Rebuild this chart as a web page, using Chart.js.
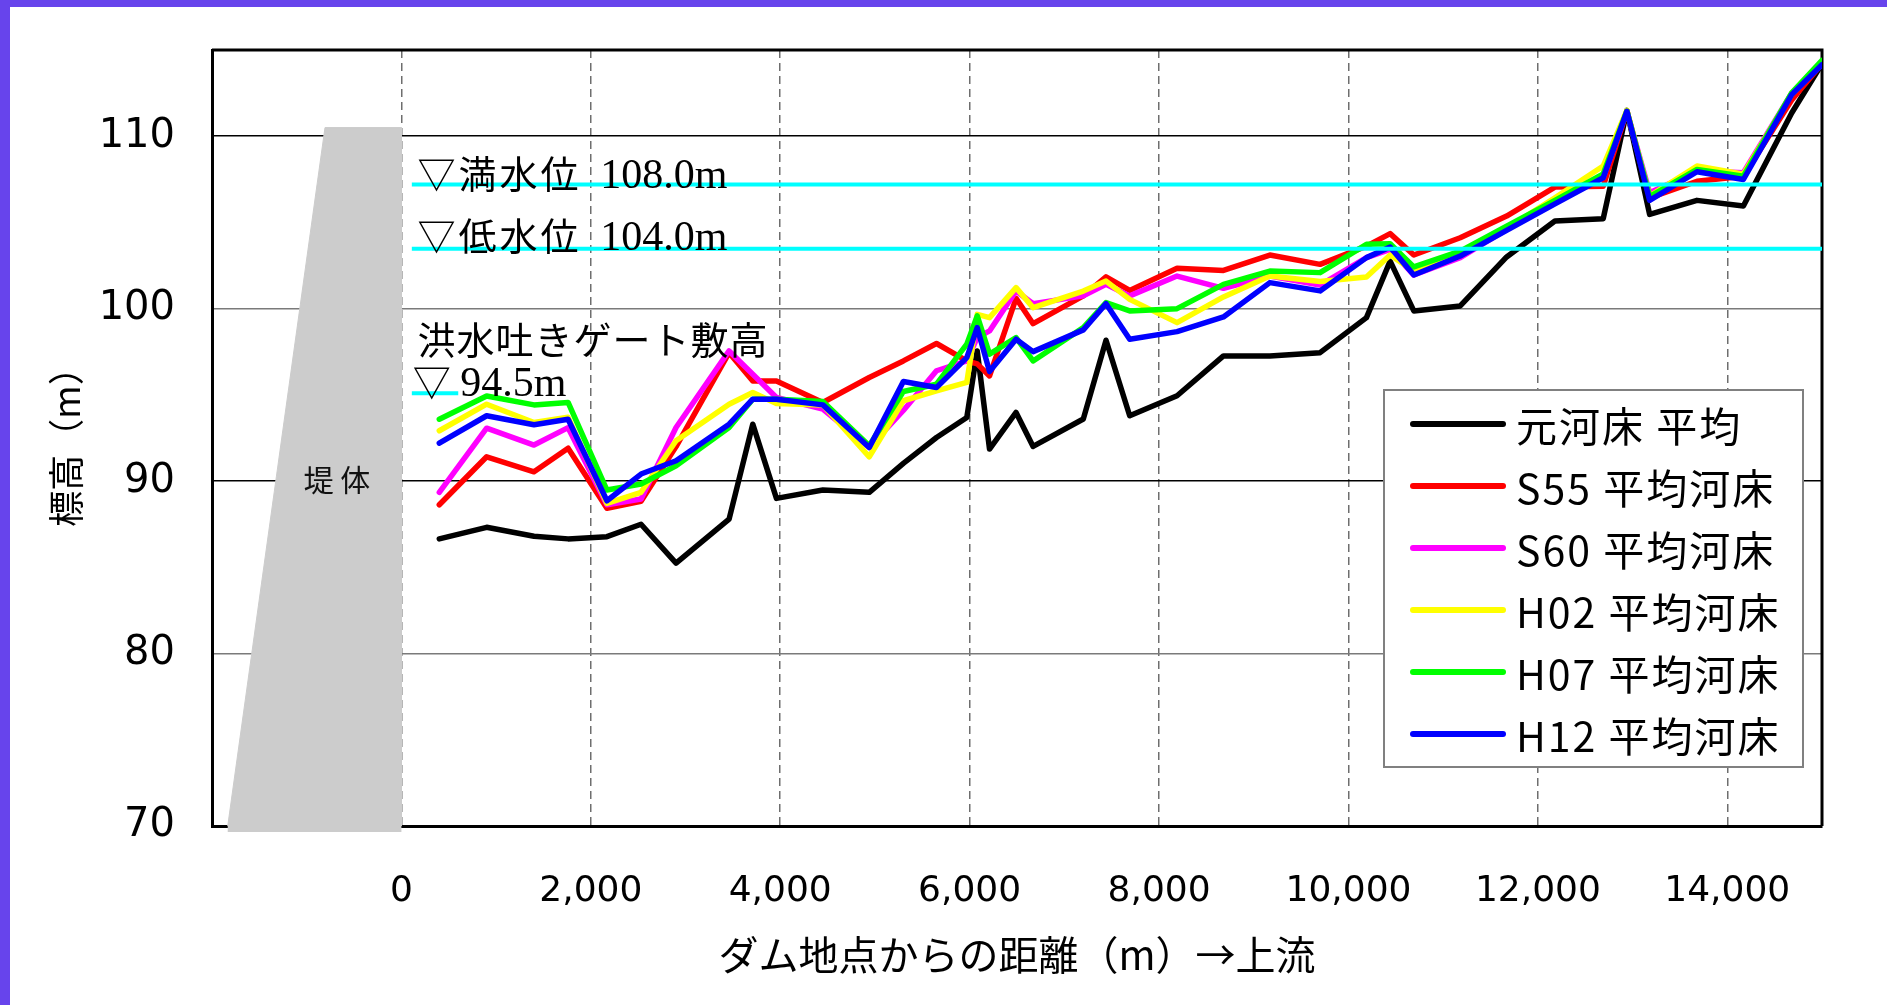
<!DOCTYPE html>
<html lang="ja">
<head>
<meta charset="utf-8">
<title>平均河床高の縦断変化</title>
<script src="https://cdn.jsdelivr.net/npm/chart.js@4.4.1/dist/chart.umd.min.js"></script>
<style>
  html, body { margin: 0; padding: 0; background: #fff; }
  #wrap { position: relative; width: 1887px; height: 1005px; overflow: hidden; background: #fff; }
  #chart { position: absolute; left: 0; top: 0; }
  .band-top  { position: absolute; left: 0; top: 0; width: 1887px; height: 7px; background: #6744EC; }
  .band-left { position: absolute; left: 0; top: 0; width: 10px; height: 1005px; background: #6744EC; }
</style>
</head>
<body>
<div id="wrap">
  <canvas id="chart" width="1887" height="1005"></canvas>
  <div class="band-top"></div>
  <div class="band-left"></div>
</div>
<script>
// ====== データ ======
// ダム地点からの距離 (m)
const DIST = [400, 900, 1400, 1760, 2170, 2530, 2900, 3460, 3710, 3960,
              4450, 4940, 5300, 5650, 5970, 6080, 6210, 6490, 6670, 7200,
              7440, 7690, 8190, 8680, 9170, 9700, 10190, 10440, 10690, 11180,
              11670, 12180, 12690, 12940, 13180, 13680, 14170, 14680, 15000];

// 標高 (m)
const BED_ORIGINAL = [86.65, 87.32, 86.8, 86.65, 86.78, 87.5, 85.24, 87.8, 93.3, 89.0,
                      89.48, 89.35, 91.03, 92.53, 93.69, 97.55, 91.86, 93.98, 92.01, 93.6,
                      98.17, 93.79, 94.95, 97.26, 97.26, 97.45, 99.48, 102.76, 99.87, 100.16,
                      103.0, 105.08, 105.22, 111.5, 105.47, 106.28, 105.95, 111.35, 114.2];
const BED_S55 = [88.63, 91.41, 90.54, 91.91, 88.42, 88.83, 92.0, 97.45, 95.81, 95.81,
                 94.56, 96.01, 96.97, 97.98, 96.97, 96.8, 96.1, 100.6, 99.13, 100.74,
                 101.85, 101.06, 102.34, 102.22, 103.11, 102.57, 103.63, 104.35, 103.11, 104.11,
                 105.37, 107.05, 107.1, 111.45, 106.43, 107.39, 107.68, 112.1, 114.2];
const BED_S60 = [89.35, 93.07, 92.09, 93.1, 88.63, 88.96, 93.11, 97.55, 96.2, 94.85,
                 94.17, 91.95, 94.1, 96.4, 96.97, 98.32, 98.71, 101.02, 100.29, 100.74,
                 101.41, 100.74, 101.89, 101.18, 101.89, 101.37, 102.96, 103.44, 101.95, 102.96,
                 104.6, 106.15, 107.6, 111.45, 106.72, 108.0, 107.88, 112.5, 114.2];
const BED_H02 = [92.92, 94.46, 93.4, 93.7, 88.71, 89.35, 92.34, 94.46, 95.14, 94.5,
                 94.42, 91.41, 94.66, 95.23, 95.72, 99.67, 99.48, 101.22, 100.06, 101.02,
                 101.6, 100.54, 99.19, 100.68, 101.89, 101.57, 101.84, 103.11, 102.18, 103.2,
                 104.65, 106.43, 108.27, 111.5, 106.53, 108.27, 107.8, 112.45, 114.2];
const BED_H07 = [93.59, 94.94, 94.42, 94.56, 89.48, 89.83, 90.89, 93.11, 94.75, 94.75,
                 94.62, 92.05, 95.2, 95.62, 97.94, 99.58, 97.36, 98.32, 96.97, 98.9,
                 100.35, 99.87, 100.0, 101.41, 102.18, 102.09, 103.73, 103.77, 102.42, 103.34,
                 104.79, 106.28, 107.82, 111.45, 106.5, 108.07, 107.68, 112.51, 114.4];
const BED_H12 = [92.2, 93.79, 93.27, 93.59, 88.86, 90.41, 91.18, 93.3, 94.75, 94.75,
                 94.42, 91.95, 95.78, 95.43, 97.16, 98.9, 96.35, 98.23, 97.51, 98.77,
                 100.29, 98.23, 98.67, 99.52, 101.51, 101.03, 102.96, 103.57, 101.95, 103.05,
                 104.54, 106.08, 107.59, 111.45, 106.28, 107.94, 107.49, 112.41, 114.15];

const SERIES_NAMES = ["元河床 平均", "S55 平均河床", "S60 平均河床", "H02 平均河床", "H07 平均河床", "H12 平均河床"];
const SERIES_VALUES = [BED_ORIGINAL, BED_S55, BED_S60, BED_H02, BED_H07, BED_H12];

// 堤体の外形 (距離, 標高)
const DAM_X = [-1834, -807, 0, 0];
const DAM_Y = [70, 110.5, 110.5, 70];
const DAM_BASE_X = [-1834, 0];
const DAM_BASE_Y = [69.85, 69.85];

// 水位線
const LEVEL_FULL_X = [110, 15000];
const LEVEL_FULL_Y = [107.2, 107.2];
const LEVEL_LOW_X  = [110, 15000];
const LEVEL_LOW_Y  = [103.47, 103.47];
const LEVEL_GATE_X = [110, 600];
const LEVEL_GATE_Y = [95.1, 95.1];

// 軸
const X_MIN = -2000, X_MAX = 15000;
const X_TICKS = [-2000, 0, 2000, 4000, 6000, 8000, 10000, 12000, 14000];
const Y_MIN = 70, Y_MAX = 115;
const Y_TICKS = [70, 80, 90, 100, 110];

// ====== 見た目 ======
const COLORS = ["#000000", "#ff0000", "#ff00ff", "#ffff00", "#00ff00", "#0000ff"];
const JP = '"Noto Sans CJK JP", "Noto Sans CJK SC", sans-serif';
const SERIF = '"Liberation Serif", "DejaVu Serif", serif';
const SANS = '"DejaVu Sans", "Liberation Sans", sans-serif';

const NOTES = [
  { text: "▽満水位", x: 170, y: 107.0, font: "38px " + JP, spacing: "3px" },
  { text: "108.0m", x: 2100, y: 107.0, font: "42px " + SERIF, spacing: "0px" },
  { text: "▽低水位", x: 170, y: 103.4, font: "38px " + JP, spacing: "3px" },
  { text: "104.0m", x: 2100, y: 103.4, font: "42px " + SERIF, spacing: "0px" },
  { text: "洪水吐きゲート敷高", x: 170, y: 97.4, font: "38px " + JP, spacing: "1px" },
  { text: "▽", x: 120, y: 94.95, font: "38px " + JP, spacing: "0px" },
  { text: "94.5m", x: 620, y: 94.95, font: "42px " + SERIF, spacing: "0px" },
];
const DAM_LABEL = { text: "堤 体", x: -680, y: 90.1 };

const LEGEND_BOX = { x: 1384, y: 390, w: 419, h: 377 };

function toPoints(xs, ys) {
  return xs.map((x, i) => ({ x: x, y: ys[i] }));
}

// ====== データセット ======
const datasets = [];

SERIES_NAMES.forEach((name, i) => {
  datasets.push({
    label: name,
    data: toPoints(DIST, SERIES_VALUES[i]),
    borderColor: COLORS[i],
    backgroundColor: COLORS[i],
    borderWidth: 5.5,
    borderJoinStyle: "round",
    borderCapStyle: "round",
    pointRadius: 0,
    fill: false,
    order: 6 - i
  });
});

[[LEVEL_FULL_X, LEVEL_FULL_Y], [LEVEL_LOW_X, LEVEL_LOW_Y], [LEVEL_GATE_X, LEVEL_GATE_Y]].forEach(([xs, ys]) => {
  datasets.push({
    label: "",
    data: toPoints(xs, ys),
    borderColor: "#00ffff",
    borderWidth: 4,
    pointRadius: 0,
    fill: false,
    order: 0
  });
});

// 堤体
datasets.push({
  label: "堤体",
  data: toPoints(DAM_X, DAM_Y),
  borderColor: "#cccccc",
  backgroundColor: "#cccccc",
  borderWidth: 1,
  pointRadius: 0,
  fill: "start",
  order: 10
});
datasets.push({
  label: "堤体下端",
  data: toPoints(DAM_BASE_X, DAM_BASE_Y),
  borderColor: "#cccccc",
  borderWidth: 7,
  borderCapStyle: "butt",
  pointRadius: 0,
  fill: false,
  clip: false,
  order: 9
});

// ====== 枠・注記・凡例 ======
const decorations = {
  id: "decorations",
  beforeDatasetsDraw(chart) {
    const { ctx, chartArea: a } = chart;
    ctx.save();
    ctx.strokeStyle = "#000";
    ctx.lineWidth = 3;
    ctx.beginPath();
    ctx.moveTo(a.left, a.top);
    ctx.lineTo(a.right, a.top);
    ctx.lineTo(a.right, a.bottom);
    ctx.stroke();
    ctx.restore();
  },
  afterDatasetsDraw(chart) {
    const { ctx } = chart;
    const xs = chart.scales.x, ys = chart.scales.y;

    ctx.save();
    ctx.fillStyle = "#000";
    ctx.textBaseline = "alphabetic";
    ctx.textAlign = "left";
    NOTES.forEach(n => {
      ctx.font = n.font;
      ctx.letterSpacing = n.spacing;
      ctx.fillText(n.text, xs.getPixelForValue(n.x), ys.getPixelForValue(n.y));
    });
    ctx.letterSpacing = "0px";

    // 堤体
    ctx.font = "30px " + JP;
    ctx.textAlign = "center";
    ctx.textBaseline = "middle";
    ctx.fillStyle = "#111";
    ctx.fillText(DAM_LABEL.text, xs.getPixelForValue(DAM_LABEL.x), ys.getPixelForValue(DAM_LABEL.y));

    // 凡例
    const b = LEGEND_BOX;
    ctx.fillStyle = "#fff";
    ctx.fillRect(b.x, b.y, b.w, b.h);
    ctx.strokeStyle = "#808080";
    ctx.lineWidth = 2;
    ctx.strokeRect(b.x, b.y, b.w, b.h);

    ctx.font = "41px " + JP;
    ctx.letterSpacing = "2px";
    ctx.textAlign = "left";
    ctx.textBaseline = "middle";
    SERIES_NAMES.forEach((name, i) => {
      const y = b.y + 34 + i * 62;
      ctx.strokeStyle = COLORS[i];
      ctx.lineWidth = 6;
      ctx.lineCap = "round";
      ctx.beginPath();
      ctx.moveTo(b.x + 29, y);
      ctx.lineTo(b.x + 119, y);
      ctx.stroke();
      ctx.fillStyle = "#000";
      ctx.fillText(name, b.x + 132, y + 2);
    });
    ctx.restore();
  }
};

// ====== グラフ ======
new Chart(document.getElementById("chart"), {
  type: "line",
  data: { datasets: datasets },
  options: {
    responsive: false,
    animation: false,
    devicePixelRatio: 1,
    layout: { padding: { top: 50, right: 65, left: 0, bottom: 0 } },
    plugins: {
      legend: { display: false },
      tooltip: { enabled: false }
    },
    elements: { line: { tension: 0 }, point: { radius: 0 } },
    scales: {
      x: {
        type: "linear",
        min: X_MIN,
        max: X_MAX,
        afterBuildTicks: s => { s.ticks = X_TICKS.map(v => ({ value: v })); },
        ticks: {
          autoSkip: false,
          maxRotation: 0,
          padding: 44,
          color: "#000",
          font: { family: SANS, size: 36 },
          callback: v => (v === X_MIN ? "" : Number(v).toLocaleString("en-US"))
        },
        grid: {
          drawTicks: false,
          lineWidth: 1.5,
          color: c => (c.tick && c.tick.value === X_MIN ? "rgba(0,0,0,0)" : "#6e6e6e")
        },
        border: { color: "#000", width: 3, dash: [8, 5] },
        title: {
          display: true,
          text: "ダム地点からの距離（m）→上流",
          color: "#000",
          font: { family: JP, size: 40 },
          padding: { top: 0, bottom: 26 }
        },
        afterFit: s => {
          s.height = 179;
          s.paddingLeft = 0;
          s.paddingRight = 0;
        }
      },
      y: {
        min: Y_MIN,
        max: Y_MAX,
        afterBuildTicks: s => { s.ticks = Y_TICKS.map(v => ({ value: v })); },
        ticks: {
          padding: 37,
          color: "#000",
          font: { family: SANS, size: 40 }
        },
        grid: {
          drawTicks: false,
          lineWidth: 1.5,
          color: c => {
            if (!c.tick || c.tick.value === Y_MIN) return "rgba(0,0,0,0)";
            return c.tick.value % 20 === 10 ? "#000" : "#7a7a7a";
          }
        },
        border: { color: "#000", width: 3 },
        title: {
          display: true,
          text: "標高（m）",
          color: "#000",
          font: { family: JP, size: 36 },
          padding: { top: 45, bottom: 0 }
        },
        afterFit: s => {
          s.width = 212;
          s.paddingTop = 0;
          s.paddingBottom = 0;
        }
      }
    }
  },
  plugins: [decorations]
});
</script>
</body>
</html>
